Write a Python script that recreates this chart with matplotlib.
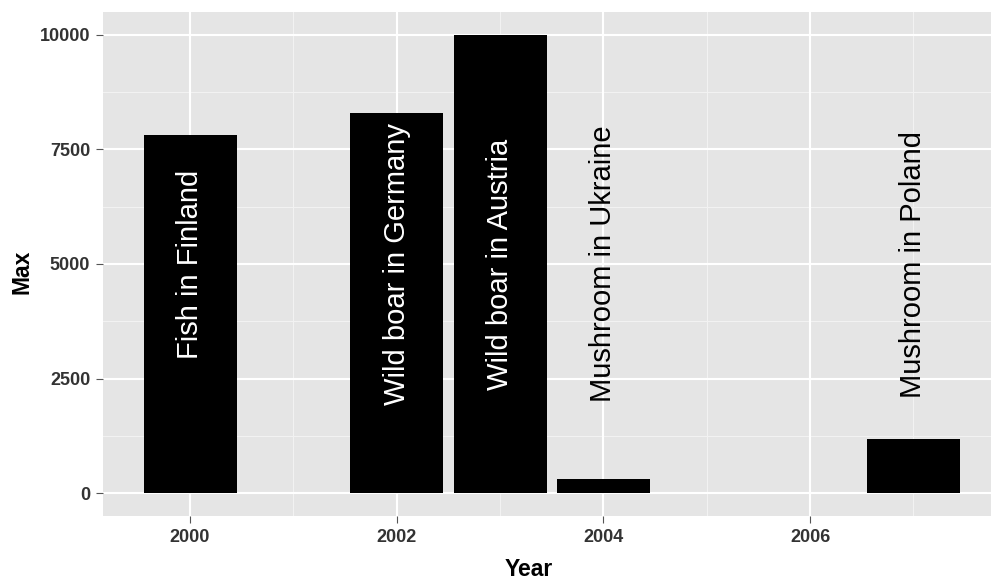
import numpy as np
import matplotlib
matplotlib.use("Agg")
import matplotlib.pyplot as plt

# data
years = [2000, 2002, 2003, 2004, 2007]
max_values = [7820, 8300, 10000, 310, 1190]
labels = ["Fish in Finland", "Wild boar in Germany", "Wild boar in Austria",
          "Mushroom in Ukraine", "Mushroom in Poland"]
label_colors = ["white", "white", "white", "black", "black"]
label_y = 5000

plt.rcParams['font.family'] = ['Liberation Sans', 'DejaVu Sans']

fig = plt.figure(figsize=(9.91, 5.80), dpi=100, facecolor='white')
ax = fig.add_axes([102.7 / 991, 1 - 516 / 580, (991 - 102.7) / 991, (516 - 12) / 580])
ax.set_facecolor('#E5E5E5')

# grid like ggplot theme_grey
for v in [1250, 3750, 6250, 8750]:
    ax.axhline(v, color='#F2F2F2', lw=0.8, zorder=0)
for v in [2001, 2003, 2005, 2007]:
    ax.axvline(v, color='#F2F2F2', lw=0.8, zorder=0)
for v in [0, 2500, 5000, 7500, 10000]:
    ax.axhline(v, color='white', lw=1.5, zorder=0)
for v in [2000, 2002, 2004, 2006]:
    ax.axvline(v, color='white', lw=1.5, zorder=0)

ax.bar(years, max_values, width=0.9, color='black', zorder=2)

for x, lab, c in zip(years, labels, label_colors):
    ax.text(x, label_y, lab, rotation=90, ha='center', va='center',
            color=c, fontsize=21, zorder=3)

ax.set_xlim(1999.155, 2007.75)
ax.set_ylim(-500, 10500)
ax.set_xticks([2000, 2002, 2004, 2006])
ax.set_yticks([0, 2500, 5000, 7500, 10000])
ax.tick_params(axis='both', colors='#555555', length=5, width=0.8,
               labelsize=13, labelcolor='#333333', pad=4)
for lab in ax.get_xticklabels() + ax.get_yticklabels():
    lab.set_fontweight('bold')
for s in ax.spines.values():
    s.set_visible(False)

ax.set_xlabel("Year", fontsize=16.5, fontweight='bold')
ax.set_ylabel("Max", fontsize=16.5, fontweight='bold')
ax.xaxis.set_label_coords((529 - 102.7) / 888.3, -(569.5 - 516) / 504)
ax.yaxis.set_label_coords(-(102.7 - 22) / 888.3, (516 - 272) / 504)
ax.xaxis.label.set_va('center')
ax.yaxis.label.set_va('center')

fig.savefig("out.png", dpi=100, facecolor='white')
